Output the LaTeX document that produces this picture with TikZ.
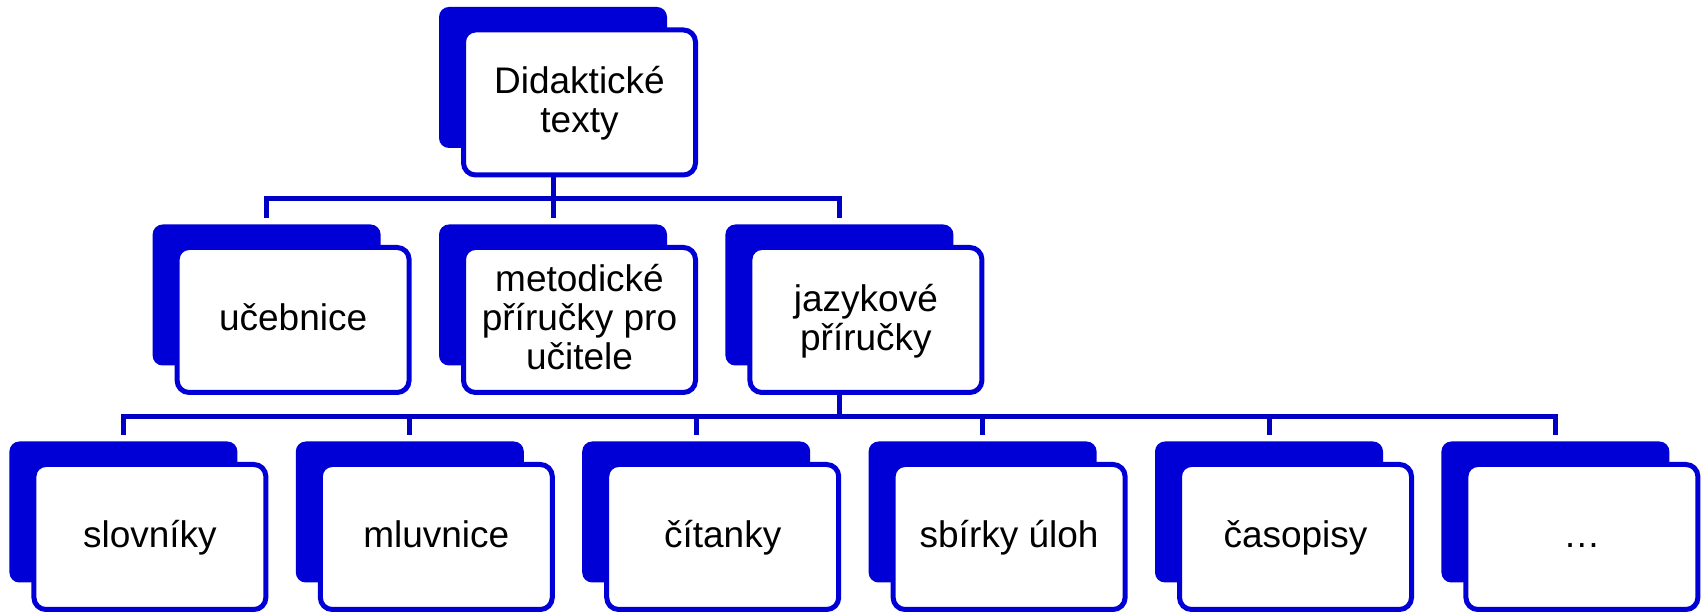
\documentclass[tikz,border=0pt]{standalone}
\usepackage{fontspec}
\setmainfont{Liberation Sans}
\usetikzlibrary{positioning}

\definecolor{cardblue}{RGB}{0,0,214}
\definecolor{linkblue}{RGB}{0,0,196}

\begin{document}
\begin{tikzpicture}[
    x=0.5pt, y=-0.5pt,
    back/.style={fill=cardblue, rounded corners=5pt, minimum width=114pt, minimum height=70.5pt, inner sep=0pt},
    card/.style={draw=cardblue, line width=2.5pt, fill=white, rounded corners=6pt, minimum width=116pt, minimum height=72.5pt, inner sep=2pt, align=center, text height=14.5pt, text depth=3.5pt, font=\fontsize{18.5}{19.5}\selectfont},
    twolines/.style={text height=34pt},
    threelines/.style={text height=53.5pt},
    link/.style={draw=linkblue, line width=2.5pt, shorten >=3.25pt},
]
\useasboundingbox (0,0) rectangle (1705,613);

% Top level
\node[back] (didak-bk) at (553,77.5) {};
\node[card, twolines] (didak) at ([shift={(26.5,25)}]didak-bk) {Didaktické\\texty};

% Second level
\node[back] (ucebnice-bk) at (266.6,295) {};
\node[card] (ucebnice) at ([shift={(26.5,25)}]ucebnice-bk) {učebnice};
\node[back] (metod-bk) at (553,295) {};
\node[card, threelines] (metod) at ([shift={(26.5,25)}]metod-bk) {metodické\\příručky pro\\učitele};
\node[back] (jazyk-bk) at (839.4,295) {};
\node[card, twolines] (jazyk) at ([shift={(26.5,25)}]jazyk-bk) {jazykové\\příručky};

% Third level
\node[back] (slovniky-bk) at (123.4,512) {};
\node[card] (slovniky) at ([shift={(26.5,25)}]slovniky-bk) {slovníky};
\node[back] (mluvnice-bk) at (409.8,512) {};
\node[card] (mluvnice) at ([shift={(26.5,25)}]mluvnice-bk) {mluvnice};
\node[back] (citanky-bk) at (696.2,512) {};
\node[card] (citanky) at ([shift={(26.5,25)}]citanky-bk) {čítanky};
\node[back] (sbirky-bk) at (982.6,512) {};
\node[card] (sbirky) at ([shift={(26.5,25)}]sbirky-bk) {sbírky úloh};
\node[back] (casopisy-bk) at (1269,512) {};
\node[card] (casopisy) at ([shift={(26.5,25)}]casopisy-bk) {časopisy};
\node[back] (dalsi-bk) at (1555.4,512) {};
\node[card] (dalsi) at ([shift={(26.5,25)}]dalsi-bk) {…};

% Links
\draw[link] (didak-bk |- didak.south) -- ++(0,21.5) -| (ucebnice-bk.north);
\draw[link] (didak-bk |- didak.south) -- ++(0,21.5) -| (metod-bk.north);
\draw[link] (didak-bk |- didak.south) -- ++(0,21.5) -| (jazyk-bk.north);
\draw[link] (jazyk-bk |- jazyk.south) -- ++(0,21.5) -| (slovniky-bk.north);
\draw[link] (jazyk-bk |- jazyk.south) -- ++(0,21.5) -| (mluvnice-bk.north);
\draw[link] (jazyk-bk |- jazyk.south) -- ++(0,21.5) -| (citanky-bk.north);
\draw[link] (jazyk-bk |- jazyk.south) -- ++(0,21.5) -| (sbirky-bk.north);
\draw[link] (jazyk-bk |- jazyk.south) -- ++(0,21.5) -| (casopisy-bk.north);
\draw[link] (jazyk-bk |- jazyk.south) -- ++(0,21.5) -| (dalsi-bk.north);

\end{tikzpicture}
\end{document}
